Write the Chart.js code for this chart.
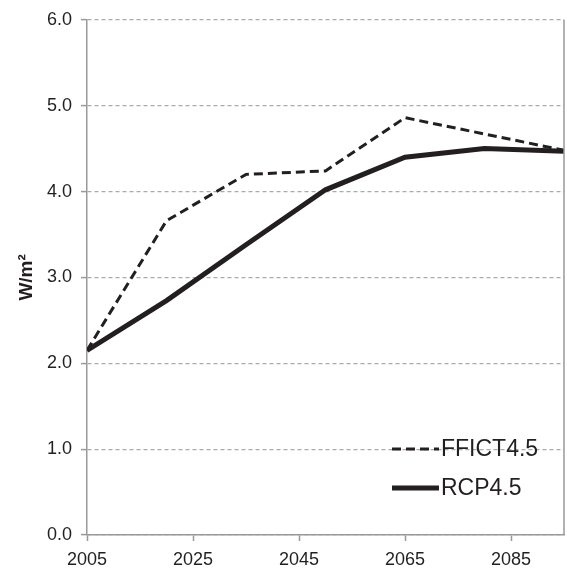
<!DOCTYPE html>
<html>
<head>
<meta charset="utf-8">
<script src="https://cdn.jsdelivr.net/npm/chart.js@4"></script>
<style>
  html, body { margin: 0; padding: 0; background: #fff; }
  #wrap { width: 567px; height: 568px; }
</style>
</head>
<body>
<div id="wrap"><canvas id="c" width="567" height="568"></canvas></div>
<script>
const years = [2005, 2020, 2035, 2050, 2065, 2080, 2095];
const ffict = [2.15, 3.66, 4.20, 4.24, 4.86, 4.67, 4.48];
const rcp = [2.15, 2.73, 3.38, 4.02, 4.40, 4.50, 4.47];
const xTickLabels = [2005, 2025, 2045, 2065, 2085];
const seriesNames = ['FFICT4.5', 'RCP4.5'];
const yTitle = 'W/m\u00B2';

const ink = '#231f20';
const FONT = '"Liberation Sans", Arial, sans-serif';

const legendPlugin = {
  id: 'customLegend',
  afterDatasetsDraw(chart) {
    const ctx = chart.ctx;
    const area = chart.chartArea;
    ctx.save();
    ctx.strokeStyle = '#999';
    ctx.lineWidth = 1.5;
    ctx.beginPath();
    ctx.moveTo(area.right, area.top);
    ctx.lineTo(area.right, area.bottom);
    ctx.stroke();
    ctx.restore();

    const rows = [449, 488];
    chart.data.datasets.forEach((ds, i) => {
      const y = rows[i];
      ctx.save();
      ctx.strokeStyle = ds.borderColor;
      ctx.lineWidth = ds.borderWidth;
      ctx.setLineDash(ds.borderDash || []);
      ctx.beginPath();
      ctx.moveTo(392, y);
      ctx.lineTo(439, y);
      ctx.stroke();
      ctx.setLineDash([]);
      ctx.fillStyle = ink;
      ctx.font = '23px ' + FONT;
      ctx.textBaseline = 'middle';
      ctx.textAlign = 'left';
      ctx.fillText(ds.label, 441, y + 1);
      ctx.restore();
    });
  }
};

new Chart(document.getElementById('c'), {
  type: 'line',
  data: {
    datasets: [
      {
        label: seriesNames[0],
        data: years.map((x, i) => ({ x, y: ffict[i] })),
        borderColor: ink,
        borderWidth: 3,
        borderDash: [9, 5],
        pointRadius: 0,
        tension: 0,
        fill: false
      },
      {
        label: seriesNames[1],
        data: years.map((x, i) => ({ x, y: rcp[i] })),
        borderColor: ink,
        borderWidth: 5,
        pointRadius: 0,
        tension: 0,
        fill: false
      }
    ]
  },
  options: {
    responsive: false,
    animation: false,
    devicePixelRatio: 1,
    layout: { padding: { left: 0, right: 3, top: 15, bottom: 0 } },
    plugins: {
      legend: { display: false },
      tooltip: { enabled: false }
    },
    scales: {
      x: {
        type: 'linear',
        min: 2005,
        max: 2095,
        afterBuildTicks: s => { s.ticks = xTickLabels.map(v => ({ value: v })); },
        afterFit: s => { s.height = 33; },
        grid: {
          drawOnChartArea: false,
          drawTicks: true,
          tickLength: 6,
          tickColor: '#999',
          tickWidth: 1.5
        },
        border: { display: true, color: '#999', width: 1.5 },
        ticks: {
          color: ink,
          font: { family: FONT, size: 18 },
          padding: 8,
          maxRotation: 0,
          autoSkip: false,
          callback: v => String(v)
        }
      },
      y: {
        min: 0,
        max: 6,
        afterFit: s => { s.width = 87; },
        grid: {
          color: '#aaa',
          lineWidth: 1.2,
          drawTicks: true,
          tickLength: 6,
          tickColor: '#999',
          tickWidth: 1.5,
          tickBorderDash: []
        },
        border: { display: true, color: '#999', width: 1.5, dash: [4, 3] },
        ticks: {
          stepSize: 1,
          color: ink,
          font: { family: FONT, size: 18 },
          padding: 9,
          callback: v => Number(v).toFixed(1)
        },
        title: {
          display: true,
          text: yTitle,
          color: ink,
          font: { family: FONT, size: 19, weight: 'bold' },
          padding: { top: 15, bottom: 0 }
        }
      }
    }
  },
  plugins: [legendPlugin]
});
</script>
</body>
</html>
